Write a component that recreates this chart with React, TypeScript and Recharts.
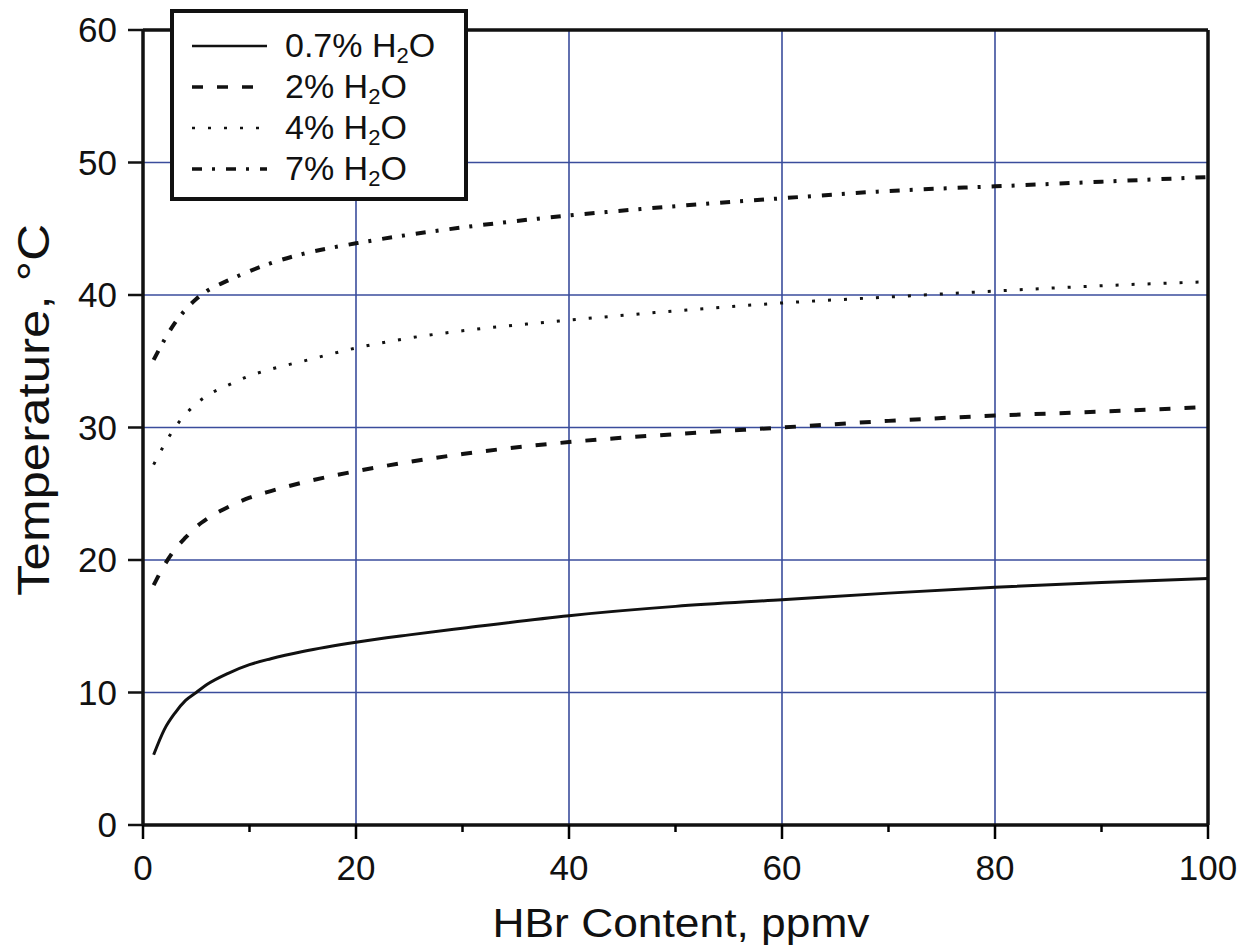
import React from "react";
import { LineChart, Line, XAxis, YAxis, ReferenceLine } from "recharts";

const HBR = [1, 2, 3, 4, 5, 6, 8, 10, 12, 15, 20, 25, 30, 40, 50, 60, 70, 80, 90, 100];
const T07 = [5.3, 7.2, 8.45, 9.4, 10.0, 10.6, 11.45, 12.1, 12.55, 13.1, 13.8, 14.35, 14.85, 15.8, 16.5, 17.0, 17.5, 17.95, 18.3, 18.6];
const T2 = [18.1, 19.6, 20.8, 21.7, 22.5, 23.1, 24.0, 24.7, 25.2, 25.85, 26.7, 27.4, 28.0, 28.9, 29.5, 30.0, 30.5, 30.9, 31.2, 31.55];
const T4 = [27.2, 28.7, 30.0, 31.0, 31.8, 32.4, 33.2, 33.9, 34.4, 35.0, 36.0, 36.75, 37.3, 38.1, 38.8, 39.4, 39.85, 40.3, 40.7, 41.0];
const T7 = [35.1, 36.6, 37.9, 38.9, 39.7, 40.3, 41.1, 41.8, 42.4, 43.1, 43.9, 44.55, 45.1, 46.0, 46.7, 47.3, 47.85, 48.2, 48.55, 48.9];

const LABELS = ["0.7%", "2%", "4%", "7%"];
const X_TICKS = [0, 10, 20, 30, 40, 50, 60, 70, 80, 90, 100];
const Y_TICKS = [0, 10, 20, 30, 40, 50, 60];
const GRID_X = [20, 40, 60, 80];
const GRID_Y = [10, 20, 30, 40, 50];

const SERIES = [
  { key: "s07", label: LABELS[0], values: T07, dash: undefined as string | undefined, width: 3 },
  { key: "s2", label: LABELS[1], values: T2, dash: "11 14", width: 4 },
  { key: "s4", label: LABELS[2], values: T4, dash: "3 13", width: 3 },
  { key: "s7", label: LABELS[3], values: T7, dash: "10 10 3 11", width: 4 },
];

const data = HBR.map((x, i) => {
  const row: Record<string, number> = { x };
  SERIES.forEach((s) => {
    row[s.key] = s.values[i];
  });
  return row;
});

const FONT = "'Liberation Sans', Arial, Helvetica, sans-serif";
const GRID_COLOR = "#3a4d9c";

const XTick = (props: any) => {
  const { x, y, payload } = props;
  const major = payload.value % 20 === 0;
  return (
    <g>
      <line x1={x} x2={x} y1={y} y2={y + (major ? 14 : 7)} stroke="#000" strokeWidth={2.5} />
      {major && (
        <text x={x} y={y + 55} textAnchor="middle" fontSize={35} fontFamily={FONT} fill="#111">
          {payload.value}
        </text>
      )}
    </g>
  );
};

const YLabel = () => (
  <text
    transform="translate(49,410) rotate(-90)"
    textAnchor="middle"
    fontSize={45}
    fontFamily={FONT}
    fill="#111"
    textLength={372}
    lengthAdjust="spacingAndGlyphs"
  >
    Temperature, °C
  </text>
);

const XLabel = () => (
  <text
    x={681}
    y={937}
    textAnchor="middle"
    fontSize={40}
    fontFamily={FONT}
    fill="#111"
    textLength={377}
    lengthAdjust="spacingAndGlyphs"
  >
    HBr Content, ppmv
  </text>
);

const LegendBox = () => (
  <svg
    width={298}
    height={192}
    style={{ position: "absolute", left: 170, top: 9 }}
  >
    <rect x={2} y={2} width={294} height={188} fill="#fff" stroke="#111" strokeWidth={4} />
    {SERIES.map((s, i) => {
      const cy = 46 + i * 41;
      return (
        <g key={s.key}>
          <line
            x1={22}
            x2={97}
            y1={cy - 9}
            y2={cy - 9}
            stroke="#111"
            strokeWidth={s.width - 0.5}
            strokeDasharray={s.dash}
          />
          <text x={115} y={cy + 2} fontSize={34} fontFamily={FONT} fill="#111">
            {s.label} H
            <tspan fontSize={22} dy={6}>2</tspan>
            <tspan dy={-6}>O</tspan>
          </text>
        </g>
      );
    })}
  </svg>
);

export default function App() {
  return (
    <div style={{ position: "absolute", left: 0, top: 0, width: 1244, height: 946, background: "#fff" }}>
      <LineChart
        width={1244}
        height={946}
        data={data}
        margin={{ top: 30, right: 36, left: 0, bottom: 0 }}
      >
        {GRID_X.map((v) => (
          <ReferenceLine key={"gx" + v} x={v} stroke={GRID_COLOR} strokeWidth={1.6} />
        ))}
        {GRID_Y.map((v) => (
          <ReferenceLine key={"gy" + v} y={v} stroke={GRID_COLOR} strokeWidth={1.6} />
        ))}
        <ReferenceLine y={60} stroke="#111" strokeWidth={3.5} />
        <ReferenceLine x={100} stroke="#111" strokeWidth={3.5} />
        <XAxis
          dataKey="x"
          type="number"
          domain={[0, 100]}
          ticks={X_TICKS}
          interval={0}
          height={121}
          tickSize={0}
          tickMargin={0}
          tickLine={false}
          tick={<XTick />}
          axisLine={{ stroke: "#111", strokeWidth: 3.5 }}
          label={<XLabel />}
        />
        <YAxis
          type="number"
          domain={[0, 60]}
          ticks={Y_TICKS}
          interval={0}
          width={143}
          tickSize={15}
          tickMargin={11}
          tickLine={{ stroke: "#111", strokeWidth: 2.5 }}
          axisLine={{ stroke: "#111", strokeWidth: 3.5 }}
          tick={{ fontSize: 35, fontFamily: FONT, fill: "#111" }}
          label={<YLabel />}
        />
        {SERIES.map((s) => (
          <Line
            key={s.key}
            dataKey={s.key}
            name={s.label}
            type="monotone"
            stroke="#111"
            strokeWidth={s.width}
            strokeDasharray={s.dash}
            dot={false}
            activeDot={false}
            isAnimationActive={false}
          />
        ))}
      </LineChart>
      <LegendBox />
    </div>
  );
}
